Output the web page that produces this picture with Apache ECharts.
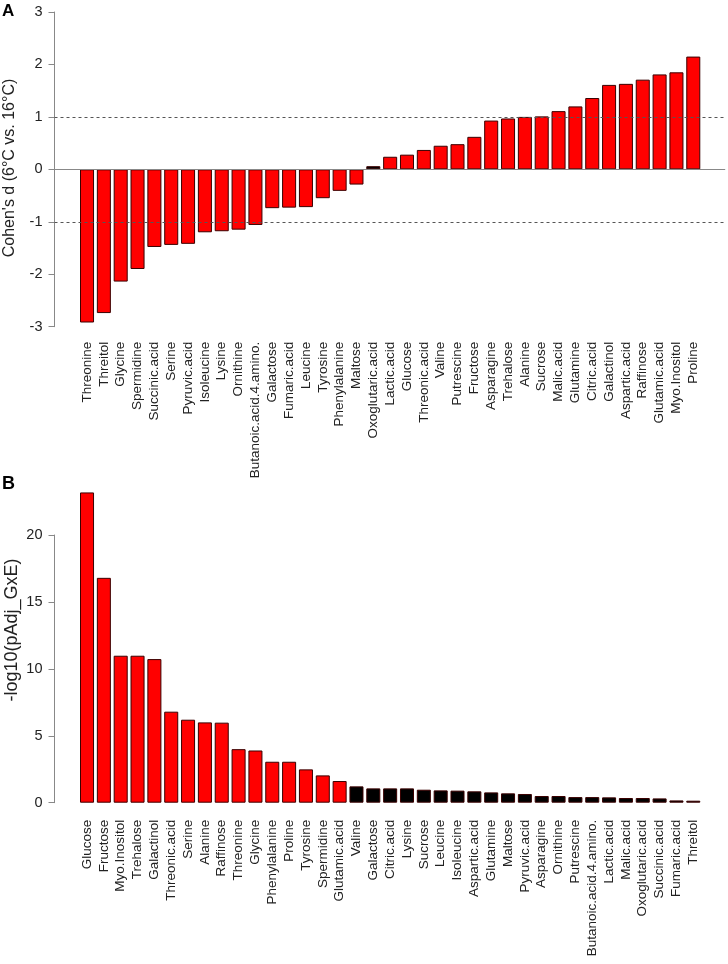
<!DOCTYPE html>
<html>
<head>
<meta charset="utf-8">
<script src="https://cdn.jsdelivr.net/npm/echarts@6/dist/echarts.min.js"></script>
<style>
html,body{margin:0;padding:0;background:#fff;}
#c{width:728px;height:964px;}
</style>
</head>
<body>
<div id="c"></div>
<script>
// ---- Panel A data ----
const catA = ['Threonine','Threitol','Glycine','Spermidine','Succinic.acid','Serine','Pyruvic.acid','Isoleucine','Lysine','Ornithine','Butanoic.acid.4.amino.','Galactose','Fumaric.acid','Leucine','Tyrosine','Phenylalanine','Maltose','Oxoglutaric.acid','Lactic.acid','Glucose','Threonic.acid','Valine','Putrescine','Fructose','Asparagine','Trehalose','Alanine','Sucrose','Malic.acid','Glutamine','Citric.acid','Galactinol','Aspartic.acid','Raffinose','Glutamic.acid','Myo.Inositol','Proline'];
const valA = [-2.92,-2.74,-2.14,-1.90,-1.48,-1.44,-1.42,-1.20,-1.18,-1.15,-1.06,-0.74,-0.73,-0.72,-0.55,-0.41,-0.29,0.06,0.24,0.28,0.37,0.45,0.48,0.62,0.93,0.97,1.00,1.01,1.11,1.20,1.36,1.61,1.63,1.71,1.81,1.85,2.15];
const sigA = [1,1,1,1,1,1,1,1,1,1,1,1,1,1,1,1,1,0,1,1,1,1,1,1,1,1,1,1,1,1,1,1,1,1,1,1,1];
const ticksA = [-3,-2,-1,0,1,2,3];
const refLinesA = [-1,1];

// ---- Panel B data ----
const catB = ['Glucose','Fructose','Myo.Inositol','Trehalose','Galactinol','Threonic.acid','Serine','Alanine','Raffinose','Threonine','Glycine','Phenylalanine','Proline','Tyrosine','Spermidine','Glutamic.acid','Valine','Galactose','Citric.acid','Lysine','Sucrose','Leucine','Isoleucine','Aspartic.acid','Glutamine','Maltose','Pyruvic.acid','Asparagine','Ornithine','Putrescine','Butanoic.acid.4.amino.','Lactic.acid','Malic.acid','Oxoglutaric.acid','Succinic.acid','Fumaric.acid','Threitol'];
const valB = [23.18,16.80,10.98,10.98,10.73,6.80,6.20,6.00,5.98,4.00,3.90,3.06,3.06,2.49,2.04,1.62,1.22,1.07,1.07,1.07,0.97,0.92,0.90,0.85,0.77,0.70,0.65,0.50,0.50,0.42,0.42,0.40,0.35,0.35,0.32,0.17,0.15];
const ticksB = [0,5,10,15,20];
const sigThresholdB = -Math.log10(0.05);

const FONT = "'Liberation Sans', Arial, Helvetica, sans-serif";
const RED = '#ff0000', BLACK = '#000000';

const chart = echarts.init(document.getElementById('c'), null, {renderer:'canvas'});

// layout
const axisX = 54.5;
const gridLeft = 78.6, gridRight = 26.3, wideRight = 2.8;
const A_top = 12, A_h = 314.7;
const B_top = 535, B_h = 267.7;

function catAxis(gi, cats, margin) {
  return {
    type:'category', gridIndex:gi, data:cats,
    axisLine:{show:false, onZero:false}, axisTick:{show:false},
    axisLabel:{rotate:90, margin:margin, interval:0, fontFamily:FONT, fontSize:13.5, color:'#222'}
  };
}
function valAxis(gi, min, max, interval, offset) {
  return {
    type:'value', gridIndex:gi, min:min, max:max, interval:interval, offset:offset,
    axisLine:{show:true, lineStyle:{color:'#888', width:1}},
    axisTick:{show:true, length:6, lineStyle:{color:'#888'}},
    axisLabel:{fontFamily:FONT, fontSize:14.5, color:'#222', margin:12},
    splitLine:{show:false}
  };
}
function hiddenVal(gi, min, max) {
  return {type:'value', gridIndex:gi, min:min, max:max, show:false, splitLine:{show:false}};
}

const refData = [{yAxis:0, lineStyle:{type:'solid', color:'#888', width:1}}]
  .concat(refLinesA.map(v => ({yAxis:v, lineStyle:{type:[3,3], color:'#555', width:1}})));

const option = {
  animation:false,
  backgroundColor:'#fff',
  grid:[
    {left:gridLeft, right:gridRight, top:A_top, height:A_h},
    {left:axisX, right:wideRight, top:A_top, height:A_h},
    {left:gridLeft, right:gridRight, top:B_top, height:B_h}
  ],
  xAxis:[
    catAxis(0, catA, 15),
    {type:'value', gridIndex:1, min:0, max:1, show:false},
    catAxis(2, catB, 17)
  ],
  yAxis:[
    valAxis(0, ticksA[0], ticksA[ticksA.length-1], 1, gridLeft-axisX),
    hiddenVal(1, ticksA[0], ticksA[ticksA.length-1]),
    valAxis(2, ticksB[0], ticksB[ticksB.length-1], 5, gridLeft-axisX)
  ],
  graphic:[
    {type:'text', left:2, top:3, style:{text:'A', font:'bold 17px '+FONT, fill:'#000'}},
    {type:'text', left:2, top:475, style:{text:'B', font:'bold 18px '+FONT, fill:'#000'}},
    {type:'text', x:10, y:168, rotation:Math.PI/2,
      style:{text:"Cohen's d (6°C vs. 16°C)", font:'16px '+FONT, fill:'#222', textAlign:'center', textVerticalAlign:'middle'}},
    {type:'text', x:12, y:630, rotation:Math.PI/2,
      style:{text:'-log10(pAdj_GxE)', font:'18px '+FONT, fill:'#222', textAlign:'center', textVerticalAlign:'middle'}}
  ],
  series:[
    {
      type:'bar', xAxisIndex:0, yAxisIndex:0, barWidth:'83.3%', clip:false, z:2,
      data: valA.map((v,i) => ({value:v, itemStyle:{color: sigA[i] ? RED : BLACK}})),
      itemStyle:{borderColor:'#3a0000', borderWidth:1}
    },
    {
      type:'line', xAxisIndex:1, yAxisIndex:1, data:[], z:5, silent:true,
      markLine:{symbol:'none', silent:true, label:{show:false}, animation:false, data:refData}
    },
    {
      type:'bar', xAxisIndex:2, yAxisIndex:2, barWidth:'83.3%', clip:false, z:2,
      data: valB.map(v => ({value:v, itemStyle:{color: v > sigThresholdB ? RED : BLACK}})),
      itemStyle:{borderColor:'#3a0000', borderWidth:1}
    }
  ]
};
chart.setOption(option);
</script>
</body>
</html>
